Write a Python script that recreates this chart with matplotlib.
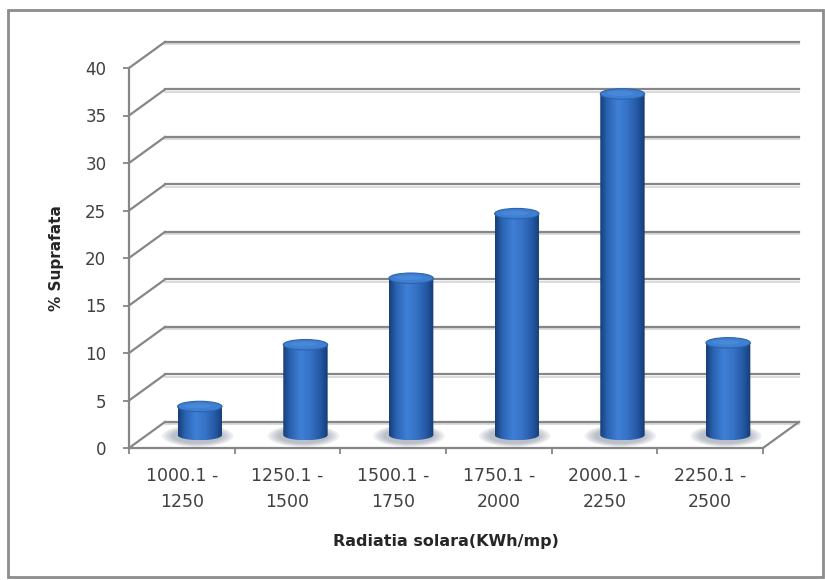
import numpy as np
import matplotlib
matplotlib.use("Agg")
import matplotlib.pyplot as plt
from matplotlib.patches import Ellipse, Rectangle, Polygon
from matplotlib.colors import LinearSegmentedColormap

# data
categories = [
    "1000.1 -\n1250",
    "1250.1 -\n1500",
    "1500.1 -\n1750",
    "1750.1 -\n2000",
    "2000.1 -\n2250",
    "2250.1 -\n2500",
]
surface_pct = [3.0, 9.5, 16.5, 23.3, 35.9, 9.7]
y_ticks = [0, 5, 10, 15, 20, 25, 30, 35, 40]

x_title = "Radiatia solara(KWh/mp)"
y_title = "% Suprafata"

# fake 3d box: depth of the back wall, in data units
depth_x = 0.34
depth_y = 2.74
bar_width = 0.42
cap_h = 1.1

grid_col = "#868686"
text_col = "#404040"

cyl_cmap = LinearSegmentedColormap.from_list(
    "cyl",
    [(0.0, "#173f78"), (0.15, "#2a62b0"), (0.4, "#3f80d6"),
     (0.6, "#3773c6"), (0.85, "#2457a2"), (1.0, "#163c74")],
)

fig = plt.figure(figsize=(8.25, 5.8), dpi=100)
ax = fig.add_axes([129 / 825, (580 - 448) / 580, 634 / 825, 380 / 580])
n = len(categories)

# back wall grid + left wall diagonals
for v in y_ticks:
    ax.plot([depth_x, n + depth_x], [v + depth_y - 0.22] * 2,
            color="#dadada", lw=1.4, clip_on=False, zorder=1)
    ax.plot([depth_x, n + depth_x], [v + depth_y] * 2,
            color=grid_col, lw=1.6, clip_on=False, zorder=2)
    ax.plot([0, depth_x], [v, v + depth_y],
            color=grid_col, lw=1.6, clip_on=False, zorder=2)
# right edge of the floor
ax.plot([n, n + depth_x], [0, depth_y], color=grid_col, lw=1.6,
        clip_on=False, zorder=2)

# cylinders
grad = np.linspace(0, 1, 64).reshape(1, -1)
for i, v in enumerate(surface_pct):
    xc = i + 0.5 + depth_x / 2
    y0 = depth_y / 2
    y1 = v + depth_y / 2
    x0, x1 = xc - bar_width / 2, xc + bar_width / 2

    # soft floor shadow
    for k in range(5):
        s = 1.0 + 0.1 * k
        ax.add_patch(Ellipse((xc - 0.02, y0 - 0.1), bar_width * 1.15 * s,
                             cap_h * 1.5 * s, facecolor="#5e6a80",
                             edgecolor="none", alpha=0.1, zorder=3))

    t = np.linspace(np.pi, 2 * np.pi, 60)
    arc = np.column_stack([xc + bar_width / 2 * np.cos(t),
                           y0 + cap_h / 2 * np.sin(t)])
    outline = np.vstack([[x0, y1], arc, [x1, y1]])
    body = Polygon(outline, closed=True, fill=False, edgecolor="none",
                   zorder=4)
    ax.add_patch(body)
    im = ax.imshow(grad, extent=(x0, x1, y0 - cap_h / 2, y1), aspect="auto",
                   cmap=cyl_cmap, origin="lower", zorder=4,
                   interpolation="bilinear")
    im.set_clip_path(body)

    ax.add_patch(Ellipse((xc, y1), bar_width, cap_h, facecolor="#3f7fd2",
                         edgecolor="#2c62ae", lw=0.8, zorder=5))
    ax.add_patch(Ellipse((xc - 0.02, y1 + 0.05), bar_width * 0.6,
                         cap_h * 0.45, facecolor="#5391e0", edgecolor="none",
                         alpha=0.5, zorder=5))

ax.set_xlim(0, n)
ax.set_ylim(0, 40)

# axes styling
for side in ["top", "right"]:
    ax.spines[side].set_visible(False)
for side in ["left", "bottom"]:
    ax.spines[side].set_color(grid_col)
    ax.spines[side].set_linewidth(1.6)

ax.set_yticks(y_ticks)
ax.tick_params(axis="y", direction="out", length=4.3, width=1.3,
               color=grid_col, labelsize=12, labelcolor=text_col, pad=12)
ax.set_xticks(range(n + 1))
ax.set_xticklabels([])
ax.set_xticks(np.arange(n) + 0.5, minor=True)
ax.set_xticklabels(categories, minor=True, linespacing=1.55)
ax.tick_params(axis="x", which="major", direction="out", length=4,
               width=1.3, color=grid_col)
ax.tick_params(axis="x", which="minor", length=0, labelsize=12.5,
               labelcolor=text_col, pad=14)

ax.set_ylabel(y_title, fontsize=11, fontweight="bold", color="#262626")
ax.yaxis.set_label_coords(-0.103, 0.5)
ax.set_xlabel(x_title, fontsize=11.5, fontweight="bold", color="#262626")
ax.xaxis.set_label_coords(0.5, -0.245)
ax.xaxis.label.set_va("center")

# chart frame
fig.add_artist(Rectangle((8 / 825, 3 / 580), 815 / 825, 567 / 580,
                         transform=fig.transFigure, fill=False,
                         edgecolor="#8c8c8c", lw=2))

fig.savefig("out.png", dpi=100)
